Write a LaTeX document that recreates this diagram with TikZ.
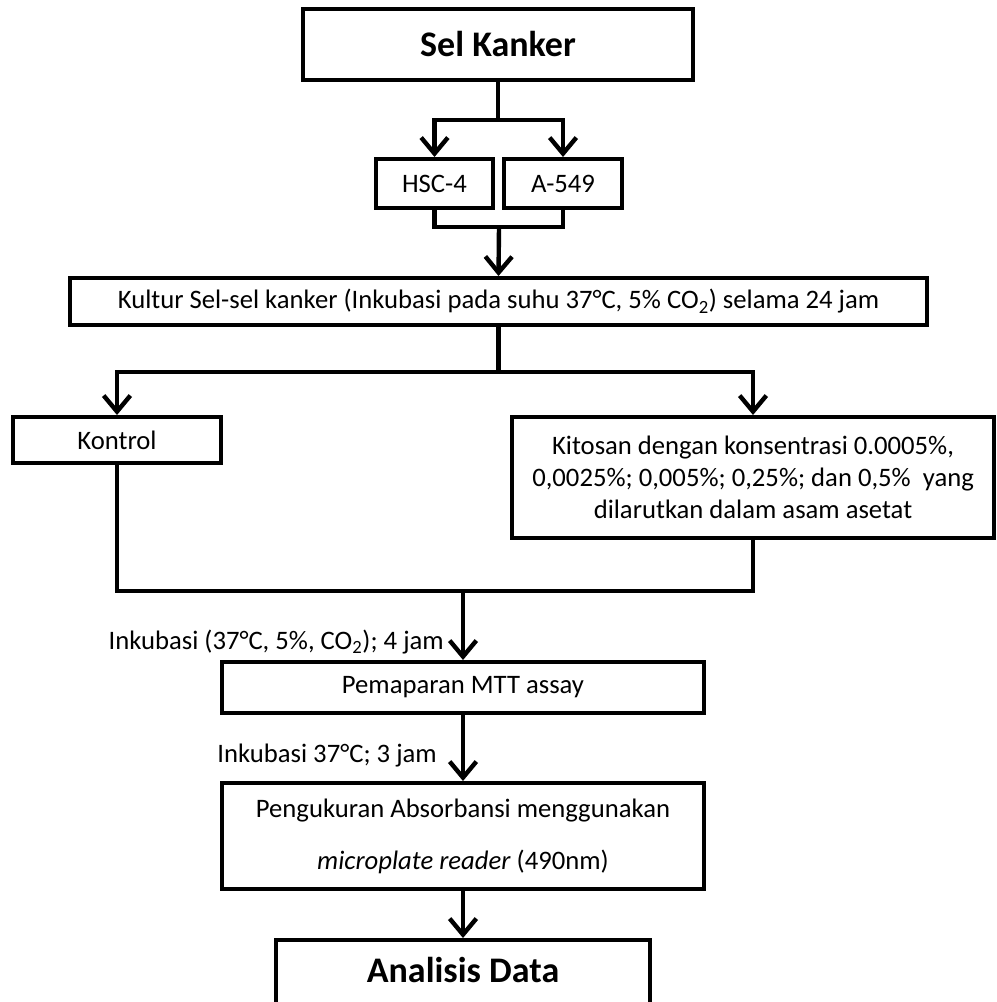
\documentclass[tikz,border=0pt]{standalone}
\usepackage{fontspec}
\setmainfont{Carlito}
\usepackage{tikz}
\usetikzlibrary{arrows.meta}

\begin{document}
\begin{tikzpicture}[x=0.75pt,y=-0.75pt,
    box/.style={draw,line width=3pt,inner sep=0pt,align=center,
                font=\fontsize{20}{24}\selectfont},
    title/.style={box,font=\fontsize{27}{32}\selectfont\bfseries},
    line/.style={line width=3.3pt},
    arr/.style={line,-{Straight Barb[length=12pt,width=20pt,line width=3.3pt]}},
    lbl/.style={anchor=east,inner sep=0pt,font=\fontsize{20}{24}\selectfont}]
\useasboundingbox (0,0) rectangle (996,1002);
\clip (0,0) rectangle (996,1002);
% boxes
\node[title,minimum width=292.5pt,minimum height=53.25pt] (sel) at (498,44.5) {Sel Kanker};
\node[box,minimum width=87.75pt,minimum height=36.75pt] (hsc) at (434.5,183.5) {HSC-4};
\node[box,minimum width=88.5pt,minimum height=36.75pt] (a549) at (563,183.5) {A-549};
\node[box,minimum width=642.75pt,minimum height=35.25pt] (kultur) at (498.5,301.5)
    {Kultur Sel-sel kanker (Inkubasi pada suhu 37°C, 5\% CO\textsubscript{2}) selama 24 jam};
\node[box,minimum width=156pt,minimum height=34.5pt] (kontrol) at (117,440) {Kontrol};
\node[box,minimum width=361.5pt,minimum height=90.75pt] (kitosan) at (753,477.5)
    {Kitosan dengan konsentrasi 0.0005\%,\\0,0025\%; 0,005\%; 0,25\%; dan 0,5\%~ yang\\dilarutkan dalam asam asetat};
\node[box,minimum width=361.5pt,minimum height=38.25pt] (mtt) at (463,687.5) {Pemaparan MTT assay};
\node[box,minimum width=361.5pt,minimum height=79.5pt] (ukur) at (463,836)
    {Pengukuran Absorbansi menggunakan\\[15pt]\textit{microplate reader} (490nm)};
\node[title,anchor=north,minimum width=280.5pt,inner ysep=0pt,text height=31.5pt,text depth=60pt]
    (data) at (463,938) {Analisis Data};
% connectors
\draw[line] (sel.south) -- ++(0,38) coordinate (s1);
\foreach \n in {hsc,a549}{% split to both cell lines
    \draw[arr] (s1) -| (\n.north);}
\coordinate (join1) at (499,227);
\draw[line] (hsc.south) |- (join1) -| (a549.south);
\draw[arr] (join1) -- (kultur.north);
\draw[line] (kultur.south) -- ++(0,45) coordinate (s2);
\foreach \n in {kontrol,kitosan}{% split to treatment groups
    \draw[arr] (s2) -| (\n.north);}
\coordinate (join2) at (463,591);
\draw[line] (kontrol.south) |- (join2) -| (kitosan.south);
\draw[arr] (join2) -- (mtt.north);
\draw[arr] (mtt.south) -- (ukur.north);
\draw[arr] (ukur.south) -- (data.north);
% labels
\node[lbl] (inc1) at (444,642) {Inkubasi (37°C, 5\%, CO\textsubscript{2}); 4 jam};
\node[lbl] (inc2) at (437,756) {Inkubasi 37°C; 3 jam};
\end{tikzpicture}
\end{document}
